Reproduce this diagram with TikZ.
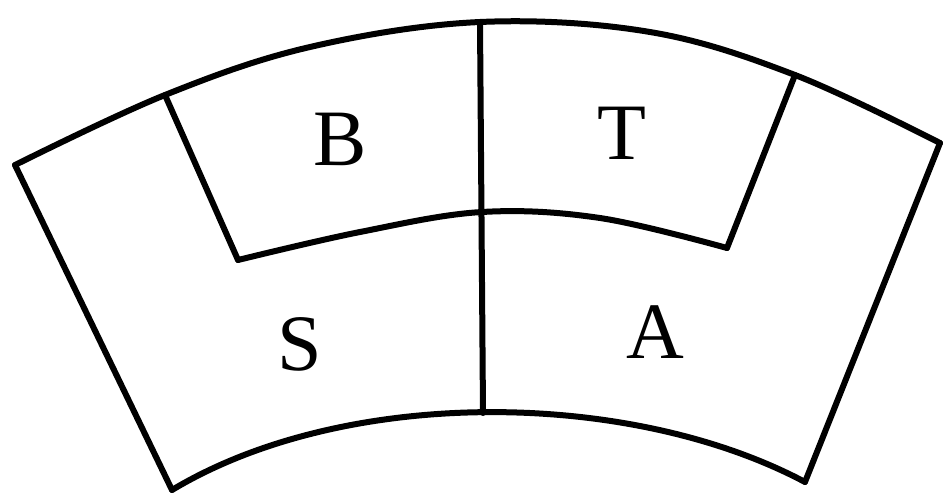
\documentclass[tikz,border=0pt]{standalone}
\usepackage{fontspec}
\setmainfont{Liberation Serif}
\begin{document}
\begin{tikzpicture}[x=1pt,y=-1pt,
  edge/.style={line width=6pt,line join=round,line cap=round},
  lbl/.style={font=\fontsize{80}{84}\selectfont,inner sep=0pt}]
\useasboundingbox (0,0) rectangle (946,498);
% corners
\coordinate (OL) at (15,165);
\coordinate (OR) at (940,143);
\coordinate (IL) at (172,490);
\coordinate (IR) at (805,482);
\coordinate (PLT) at (165,95);
\coordinate (PLB) at (238,260);
\coordinate (PRT) at (795,75);
\coordinate (PRB) at (727,248);
\coordinate (VT) at (480,22);
\coordinate (VB) at (483,413);
% outer arc
\draw[edge] plot[smooth,tension=0.6] coordinates {(OL) (PLT) (310,47) (VT) (650,32) (PRT) (OR)};
% middle arc
\draw[edge] plot[smooth,tension=0.6] coordinates {(PLB) (360,232) (482,212) (600,218) (PRB)};
% inner arc
\draw[edge] (IL) .. controls (345,386) and (630,389) .. (IR);
% sides
\draw[edge] (OL) -- (IL);
\draw[edge] (OR) -- (IR);
\draw[edge] (PLT) -- (PLB);
\draw[edge] (PRT) -- (PRB);
\draw[edge] (VT) -- (VB);
% labels
\node[lbl] (B) at (340,139) {B};
\node[lbl] (T) at (622,133) {T};
\node[lbl] (S) at (300,344) {S};
\node[lbl] (A) at (655,332) {A};
\end{tikzpicture}
\end{document}
